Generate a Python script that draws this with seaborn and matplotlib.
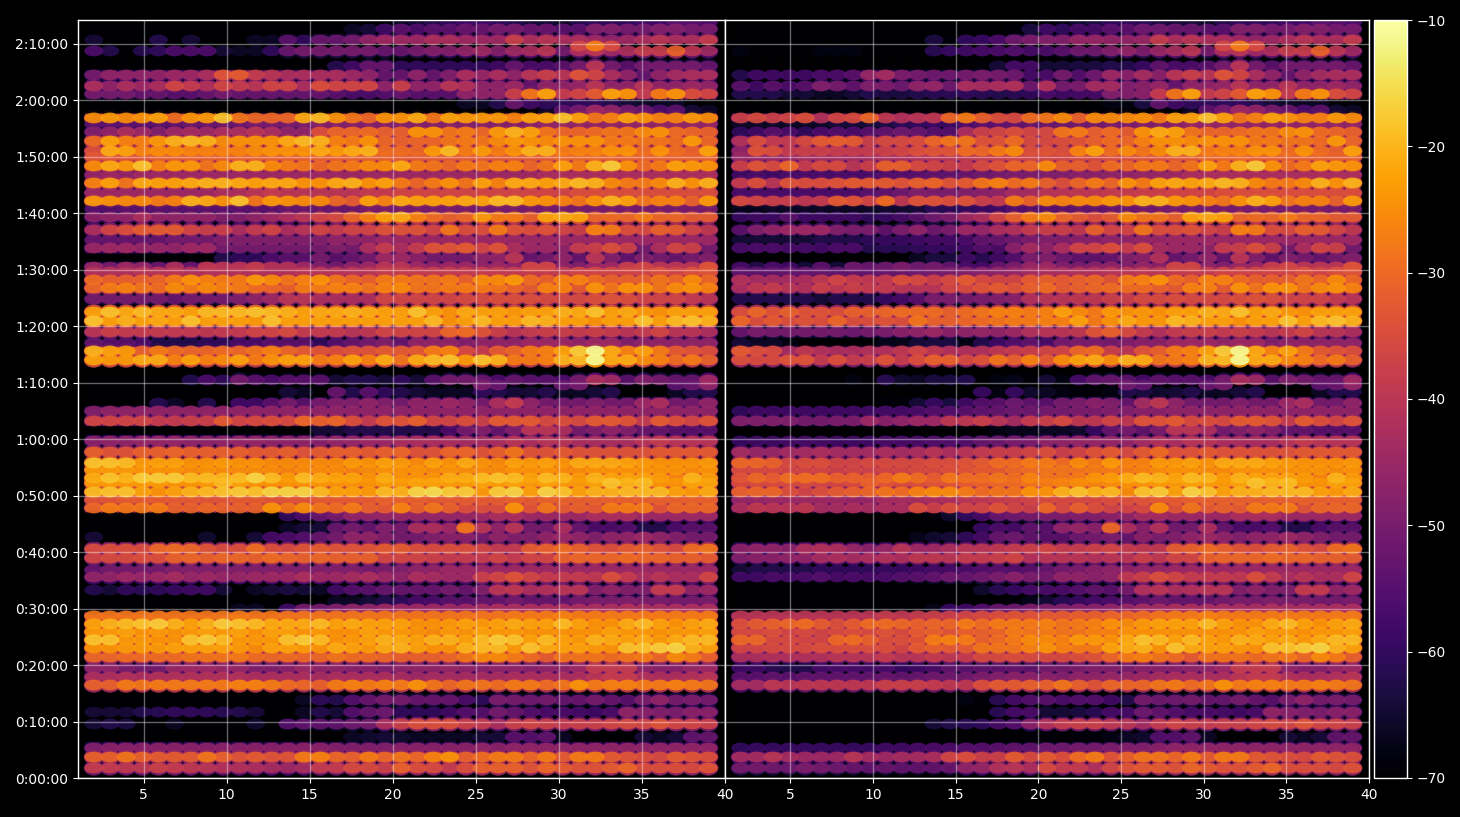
import numpy as np
import pandas as pd
import seaborn as sns
import matplotlib
matplotlib.use("Agg")
import matplotlib.pyplot as plt
from matplotlib.cm import ScalarMappable
from matplotlib.colors import Normalize
from matplotlib.markers import MarkerStyle
from matplotlib.ticker import FuncFormatter
from matplotlib.transforms import Affine2D

# Track positions (seconds), paired with the attenuation rows below
row_times = [106, 223, 319, 436, 574, 701, 829, 988, 1073, 1169, 1286, 1382, 1467, 1552, 1637, 1722,
             1796, 1881, 1998, 2136, 2210, 2338, 2434, 2561, 2657, 2784, 2869, 2954, 3039, 3135, 3188,
             3273, 3348, 3464, 3581, 3698, 3794, 3900, 3985, 4102, 4176, 4230, 4442, 4538, 4623, 4740, 4857,
             4952, 5090, 5207, 5292, 5377, 5430, 5526, 5632, 5717, 5824, 5962, 6047, 6132, 6217, 6323,
             6408, 6504, 6599, 6663, 6769, 6865, 6950, 7014, 7099, 7163, 7269, 7354, 7471, 7567, 7726,
             7779, 7843, 7960, 8034]

# Level below full scale (dB) per frequency bin, 39 bins on each row
row_levels = [
    [38,38,39,39,37, 38,39,40,41,41, 42,43,44,43,38, 38,35,35,37,31, 34,35,38,34,31, 31,31,33,30,32, 33,33,32,30,34, 34,34,35,33],
    [31,31,28,31,32, 32,32,28,31,33, 32,33,33,27,26, 30,31,27,30,28, 30,26,24,31,29, 27,27,30,27,32, 27,27,32,33,34, 35,32,33,34],
    [48,47,47,47,47, 47,47,47,47,47, 47,47,47,47,47, 48,48,48,48,47, 47,47,47,47,46, 47,46,46,46,46, 46,46,46,46,46, 46,46,46,46],
    [70,70,70,70,70, 70,70,70,70,70, 70,70,70,70,70, 70,66,65,64,65, 66,66,66,66,64, 64,54,55,53,66, 70,70,70,70,64, 66,64,53,52],
    [64,62,63,70,70, 66,70,70,70,70, 65,70,55,53,53, 53,51,50,42,37, 34,34,34,37,38, 42,37,36,37,38, 37,37,36,35,36, 33,36,36,37],
    [64,64,64,62,61, 60,60,60,61,62, 64,70,70,66,62, 64,55,52,51,60, 60,60,58,55,55, 50,52,55,56,56, 57,58,56,46,47, 48,49,47,47],
    [70,70,70,70,70, 70,70,70,70,70, 70,70,70,66,60, 62,55,52,50,50, 52,52,52,56,60, 49,50,51,50,52, 52,50,52,54,49, 46,50,49,50],
    [31,31,27,28,27, 27,27,27,27,26, 26,27,29,30,31, 27,26,27,26,27, 24,28,30,28,28, 29,27,27,29,28, 24,27,26,26,27, 27,26,27,28],
    [42,42,41,42,41, 41,41,41,41,41, 42,42,42,42,43, 42,42,42,42,43, 44,43,43,43,43, 43,42,42,42,42, 42,40,38,38,41, 42,42,41,40],
    [46,46,49,50,50, 45,44,44,45,45, 48,48,47,44,46, 46,47,47,48,46, 46,46,45,46,47, 46,46,47,46,46, 44,38,38,38,46, 47,47,45,44],
    [30,30,29,29,29, 29,28,28,28,27, 29,30,29,30,30, 28,29,29,30,31, 31,31,30,28,25, 25,27,29,32,28, 28,28,29,28,27, 30,25,27,31],
    [24,24,23,23,23, 22,22,22,22,23, 25,22,22,23,24, 21,22,23,21,20, 22,24,24,20,19, 19,23,18,21,22, 22,23,24,18,18, 17,16,20,22],
    [18,18,23,23,24, 24,18,17,19,23, 23,23,18,17,19, 24,23,22,20,21, 22,20,20,22,19, 17,18,22,19,22, 23,20,21,22,21, 23,21,19,19],
    [23,23,22,24,23, 24,23,22,23,22, 24,22,22,24,23, 24,24,22,23,23, 24,25,23,24,22, 23,23,24,24,24, 24,24,22,23,23, 24,23,23,22],
    [22,20,19,18,17, 20,22,20,17,18, 19,21,21,21,19, 22,21,22,22,22, 24,24,23,22,23, 22,21,22,22,19, 22,24,24,21,19, 22,24,22,21],
    [28,28,28,28,28, 28,28,28,28,27, 28,28,28,28,28, 28,28,28,28,28, 28,28,28,28,28, 28,27,27,27,26, 27,27,27,27,27, 27,27,27,27],
    [70,70,70,70,70, 70,70,70,70,66, 66,70,58,50,50, 48,46,46,44,44, 44,44,44,44,43, 42,42,42,42,42, 42,42,42,41,42, 42,42,42,42],
    [70,70,70,70,70, 70,70,70,70,70, 70,70,70,70,70, 66,66,64,62,60, 57,56,54,54,52, 52,50,52,52,52, 50,49,49,48,49, 49,50,50,49],
    [62,64,60,61,60, 59,58,58,64,70, 66,64,63,64,66, 58,55,54,52,52, 52,52,50,52,48, 40,39,42,41,40, 40,48,46,48,48, 38,38,46,44],
    [46,46,44,45,44, 43,45,44,45,45, 44,44,44,42,44, 44,43,42,44,46, 42,43,44,44,37, 36,33,36,38,38, 38,39,34,38,42, 40,42,42,36],
    [52,50,50,50,50, 48,48,48,48,48, 48,48,48,48,48, 48,48,50,49,48, 46,46,44,44,44, 44,44,44,44,44, 44,44,44,44,44, 44,44,44,44],
    [36,35,35,34,34, 31,30,31,30,30, 31,29,30,31,30, 31,31,31,36,36, 36,37,38,38,38, 36,38,36,36,31, 30,30,30,29,30, 30,31,31,32],
    [35,34,34,35,30, 29,30,33,35,34, 29,34,35,33,32, 33,33,33,32,32, 34,35,34,34,36, 38,38,32,31,29, 31,33,34,32,31, 33,35,29,28],
    [64,70,70,70,70, 70,70,65,70,70, 64,57,56,55,52, 50,46,46,48,50, 50,48,47,47,50, 46,48,48,46,44, 46,48,46,46,44, 46,48,50,50],
    [70,70,70,70,70, 70,70,70,70,70, 70,70,66,64,64, 52,50,52,48,50, 42,42,44,28,40, 46,40,50,50,42, 52,56,56,55,62, 62,56,54,54],
    [70,70,70,70,70, 70,70,70,70,70, 70,70,60,56,52, 50,46,46,45,45, 45,45,45,45,44, 42,42,44,44,44, 44,42,42,42,44, 44,44,44,44],
    [30,27,28,28,27, 31,31,30,31,31, 31,24,28,25,28, 29,27,31,32,26, 31,28,31,34,34, 34,24,33,28,32, 31,32,27,27,27, 33,30,30,30],
    [33,33,32,32,32, 32,32,33,33,32, 32,33,33,33,32, 32,32,32,31,31, 31,32,32,32,32, 32,31,32,31,31, 31,31,31,31,31, 31,31,31,31],
    [19,18,18,22,24, 22,20,19,18,17, 18,16,16,16,19, 22,22,23,19,20, 16,15,17,17,23, 17,16,22,16,18, 22,20,20,19,19, 19,22,23,21],
    [23,23,23,23,23, 24,24,23,19,22, 24,24,24,24,24, 24,24,24,23,23, 22,22,23,23,22, 23,22,23,22,23, 23,22,18,20,19, 24,24,22,22],
    [21,18,20,17,17, 17,19,19,20,19, 16,19,23,19,21, 22,22,24,21,24, 24,24,21,21,19, 18,19,22,19,20, 23,20,22,22,22, 23,26,20,23],
    [23,23,23,24,24, 24,25,24,25,25, 25,25,26,25,25, 25,26,25,24,24, 24,25,24,25,25, 25,24,24,24,25, 25,24,24,24,24, 24,24,25,24],
    [18,18,19,23,22, 22,24,24,23,24, 24,25,25,25,25, 25,23,24,22,23, 25,22,24,21,24, 25,22,23,22,24, 21,21,21,22,23, 24,24,24,23],
    [31,33,33,31,31, 30,31,31,31,31, 32,32,31,33,32, 31,31,32,31,30, 33,33,30,30,33, 31,28,33,33,32, 33,33,33,33,33, 32,32,32,32],
    [47,46,46,45,45, 45,46,46,46,45, 45,46,46,46,47, 45,45,44,44,42, 42,42,42,43,43, 42,40,42,40,40, 42,42,42,42,40, 38,40,40,40],
    [70,70,70,70,70, 70,70,70,70,70, 70,70,70,70,64, 64,62,62,62,62, 62,62,56,50,48, 52,48,40,40,42, 50,48,46,48,52, 52,54,54,54],
    [36,36,36,36,38, 38,37,37,32,36, 35,34,35,30,31, 30,34,38,33,33, 31,36,36,34,37, 32,32,32,35,34, 35,32,32,33,38, 32,34,36,33],
    [48,46,46,46,46, 46,46,46,46,46, 46,46,46,46,46, 46,46,46,46,46, 46,46,46,46,46, 46,46,46,46,46, 46,46,46,46,46, 46,46,46,46],
    [70,70,70,70,62, 66,70,62,70,58, 58,54,50,54,50, 48,48,46,48,50, 46,46,44,46,50, 42,38,46,50,50, 50,48,50,50,44, 42,50,50,46],
    [70,70,70,70,70, 70,70,70,70,70, 70,70,64,66,70, 52,62,54,60,62, 64,66,66,66,60, 62,64,64,62,66, 66,64,62,70,70, 70,66,62,62],
    [70,70,70,70,70, 70,70,70,70,70, 70,70,70,70,70, 70,70,70,70,70, 70,70,70,70,49, 52,70,70,70,52, 50,70,70,70,70, 70,54,52,46],
    [70,70,70,70,70, 70,62,56,60,50, 54,56,54,54,54, 64,62,62,64,60, 64,54,50,50,52, 56,52,54,54,56, 50,42,44,54,48, 50,52,52,44],
    [22,23,23,21,21, 26,22,26,25,22, 27,24,22,22,27, 26,22,26,21,28, 21,19,18,23,18, 20,27,27,26,20, 19,11,21,21,25, 26,29,27,31],
    [20,22,23,31,27, 29,30,30,29,30, 28,26,30,32,33, 34,33,33,32,32, 32,27,26,35,38, 32,30,27,26,22, 17,11,21,26,22, 27,32,33,34],
    [52,54,54,56,62, 62,62,60,60,56, 56,54,54,54,60, 55,52,50,48,52, 46,46,46,48,46, 46,46,44,44,44, 46,44,44,48,46, 46,46,46,46],
    [40,37,38,38,38, 38,38,39,38,38, 36,36,35,38,38, 38,40,39,36,36, 36,36,30,29,33, 37,40,38,37,37, 38,37,38,40,38, 36,40,40,42],
    [18,22,20,22,21, 22,18,22,22,22, 23,18,22,22,22, 22,22,22,22,22, 22,19,24,22,19, 22,22,19,20,22, 22,24,22,22,18, 22,19,18,20],
    [22,18,21,19,21, 21,22,19,19,19, 18,19,20,22,21, 21,20,21,22,22, 18,22,24,21,22, 22,23,22,22,20, 21,18,22,21,23, 24,22,22,22],
    [50,50,50,50,50, 52,50,50,50,48, 46,44,40,40,42, 42,42,42,36,36, 36,36,36,35,35, 34,34,34,35,35, 35,34,33,34,36, 36,36,38,40],
    [30,27,26,28,29, 25,27,25,26,27, 29,30,31,27,27, 26,26,28,26,25, 28,28,27,27,27, 28,30,32,26,26, 32,24,28,24,24, 28,25,24,26],
    [29,31,31,31,30, 27,24,26,27,27, 23,25,28,26,24, 28,30,31,27,27, 28,28,27,31,25, 25,23,29,31,26, 26,29,31,31,31, 28,30,25,30],
    [41,41,41,40,40, 40,41,41,41,41, 41,41,41,40,40, 40,40,40,38,38, 38,38,38,38,38, 38,38,38,38,38, 36,36,36,36,36, 34,36,34,33],
    [45,50,44,46,52, 42,52,39,40,40, 38,41,41,44,48, 50,46,44,40,40, 44,46,44,44,46, 44,46,36,36,46, 48,44,44,38,36, 40,40,40,33],
    [70,70,70,70,70, 70,70,70,62,60, 60,56,54,54,50, 54,52,50,44,44, 47,50,50,50,46, 46,40,52,50,46, 52,40,48,53,48, 50,52,50,48],
    [45,44,44,45,45, 46,44,44,50,50, 50,50,50,50,50, 48,50,42,38,42, 38,33,33,32,36, 33,42,44,44,46, 38,37,34,37,50, 42,36,37,50],
    [52,52,52,52,52, 50,50,50,48,48, 48,48,48,48,48, 46,46,46,44,44, 44,44,44,44,44, 44,44,44,44,44, 44,44,44,44,44, 44,44,44,44],
    [42,36,34,32,32, 32,36,37,37,42, 38,36,42,40,36, 38,36,36,33,33, 33,36,28,34,34, 27,33,34,33,36, 37,26,27,34,35, 31,32,36,39],
    [47,46,46,42,46, 46,46,46,48,48, 46,44,42,40,36, 35,30,26,22,21, 26,29,31,30,23, 27,27,31,22,21, 22,30,29,30,27, 30,30,32,32],
    [55,55,54,54,54, 54,54,54,54,54, 54,54,52,52,52, 52,52,50,50,50, 50,50,50,50,50, 50,50,50,50,50, 50,50,50,50,50, 50,50,50,50],
    [23,24,25,25,27, 26,20,21,24,18, 28,23,24,25,25, 30,32,22,26,21, 22,22,22,21,22, 19,19,23,24,26, 28,24,20,22,28, 26,26,31,23],
    [44,44,44,44,44, 44,44,44,42,42, 40,38,40,40,40, 40,40,38,38,36, 36,36,36,36,36, 36,36,36,36,36, 34,34,34,34,34, 34,34,34,34],
    [26,22,28,21,22, 22,21,20,20,21, 22,21,21,24,24, 21,20,24,22,27, 30,27,24,28,22, 26,21,21,22,21, 19,20,25,27,27, 25,20,24,20],
    [46,44,46,44,44, 44,44,44,44,44, 44,44,44,44,44, 44,44,44,44,44, 44,44,44,44,44, 44,44,44,42,42, 42,42,42,42,42, 42,42,42,42],
    [25,21,23,18,26, 23,23,28,25,20, 20,25,27,28,30, 28,27,25,25,21, 27,28,30,27,28, 26,26,30,28,22, 27,20,17,24,29, 27,22,23,24],
    [33,33,33,33,31, 31,31,31,31,31, 31,31,31,31,31, 31,31,31,31,32, 32,32,32,32,32, 32,32,32,32,30, 30,30,31,31,31, 31,31,31,31],
    [34,21,22,26,25, 25,26,26,26,26, 25,24,24,24,21, 23,21,20,29,29, 30,23,19,27,23, 27,24,20,20,27, 26,26,24,24,29, 24,29,31,22],
    [29,22,26,26,23, 20,19,20,25,24, 24,24,21,19,20, 26,27,24,30,31, 30,30,28,27,28, 25,23,24,25,24, 24,24,27,27,28, 28,29,23,30],
    [48,46,42,44,48, 44,43,44,42,42, 40,42,46,46,34, 30,30,29,31,31, 24,24,28,27,30, 23,20,22,28,30, 30,29,28,28,25, 24,29,30,31],
    [54,54,54,54,54, 54,52,52,52,52, 50,50,50,50,48, 48,48,48,48,48, 48,48,48,48,48, 48,48,48,46,46, 46,46,46,46,46, 46,46,46,46],
    [25,23,25,24,22, 29,24,23,18,28, 30,30,30,21,19, 24,28,30,24,24, 21,28,22,23,23, 23,26,22,22,18, 22,28,26,22,24, 26,26,23,25],
    [70,70,70,70,70, 70,70,70,70,70, 70,70,70,70,70, 70,70,70,70,70, 70,70,70,70,70, 70,70,70,66,54, 50,44,46,50,52, 56,54,64,66],
    [70,70,70,70,70, 70,70,70,70,70, 70,70,70,70,70, 70,70,70,70,70, 70,70,70,66,66, 62,52,58,60,60, 60,60,62,64,66, 66,66,70,70],
    [50,50,50,52,52, 54,54,52,50,52, 52,52,52,52,52, 54,56,56,55,52, 54,54,54,46,46, 46,37,28,22,38, 36,32,22,24,38, 27,24,34,36],
    [42,46,42,44,42, 36,38,41,36,38, 40,36,36,42,34, 36,36,36,46,37, 46,46,40,41,46, 46,44,52,46,46, 45,40,46,46,40, 46,46,44,46],
    [50,46,46,46,46, 44,44,42,33,32, 38,40,42,42,42, 42,44,46,52,52, 46,52,48,42,45, 42,46,40,37,40, 33,36,42,46,52, 46,43,42,42],
    [70,70,70,70,70, 70,70,70,70,70, 70,70,70,70,70, 62,58,52,52,60, 60,60,60,60,60, 58,52,56,56,54, 50,40,50,54,50, 50,50,50,52],
    [56,62,70,62,60, 56,56,56,64,66, 66,60,52,50,50, 50,50,50,52,52, 50,48,48,46,44, 48,44,43,40,50, 42,40,44,42,38, 38,31,40,44],
    [70,70,70,70,70, 70,70,70,70,70, 70,70,70,70,70, 70,70,70,70,70, 70,70,70,70,70, 70,70,70,70,70, 36,27,35,70,70, 70,70,70,70],
    [64,70,70,70,62, 70,64,70,70,70, 66,66,54,60,52, 52,50,46,44,44, 44,42,42,44,44, 44,37,42,40,42, 42,44,46,44,42, 40,42,42,38],
    [70,70,70,70,70, 70,70,70,70,70, 70,70,70,70,70, 70,66,64,58,54, 56,54,54,52,52, 50,50,52,52,54, 54,48,48,50,50, 48,48,50,50],
    [70,70,70,70,70, 70,70,70,70,70, 70,70,70,70,70, 70,70,70,70,66, 64,62,60,58,58, 60,62,64,64,66, 62,60,60,60,58, 58,54,55,56],
]

# Extra reduction applied per bin in the processed channel (right panel)
bin_reduction = [12,12,12,12,12, 12,12,12,12,11, 11,10,9,9,8, 7,6,5,5,4, 4,3,3,2,2, 1,1,0,0,0, 0,0,0,0,0, 0,0,0,0]

tick_positions = [5, 10, 15, 20, 25, 30, 35, 40]
colorbar_ticks = [-10, -20, -30, -40, -50, -60, -70]

sns.set_theme(style="dark", rc={
    "figure.facecolor": "black", "axes.facecolor": "black", "savefig.facecolor": "black",
    "axes.edgecolor": "white", "axes.labelcolor": "white", "text.color": "white",
    "xtick.color": "white", "ytick.color": "white", "xtick.bottom": True, "ytick.left": True,
    "grid.color": "white", "axes.grid": False, "font.family": "DejaVu Sans",
    "font.size": 10, "xtick.labelsize": 10, "ytick.labelsize": 10,
})

bins = np.linspace(2, 39, len(bin_reduction))
levels = -np.array(row_levels, dtype=float)
reduction = np.array(bin_reduction, dtype=float)


def build_frame(values):
    frame = pd.DataFrame(values, index=row_times, columns=bins)
    long = frame.rename_axis(index="time", columns="bin").stack().rename("db").reset_index()
    # quiet bins sit underneath the louder ones
    return long.sort_values("db", kind="stable")


def clock(seconds, _pos=None):
    seconds = int(round(seconds))
    return f"{seconds // 3600}:{seconds % 3600 // 60:02d}:{seconds % 60:02d}"


W, H = 1460, 817
fig = plt.figure(figsize=(W / 100, H / 100), dpi=100)
rect = lambda x0, x1: [x0 / W, 1 - 778 / H, (x1 - x0) / W, (778 - 20) / H]
ax_left = fig.add_axes(rect(78, 725))
ax_right = fig.add_axes(rect(725, 1369))
ax_cbar = fig.add_axes(rect(1374, 1407))

norm = Normalize(-70, -10)
dot = MarkerStyle("o", transform=Affine2D().scale(1.75, 1.0))
# a taller, dimmer ellipse under each bin gives energy its spread along the track
halo = MarkerStyle("o", transform=Affine2D().scale(1.85, 1.42))
HALO_DROP = 13

for ax, values in ((ax_left, levels), (ax_right, levels - reduction)):
    layers = ((values - HALO_DROP, halo, 1), (values, dot, 2))
    for layer_values, marker, order in layers:
        sns.scatterplot(data=build_frame(layer_values), x="bin", y="time", hue="db", palette="inferno",
                        hue_norm=norm, marker=marker, s=60, linewidth=0, edgecolor="none",
                        alpha=0.92, legend=False, ax=ax, zorder=order)
    ax.set_xlim(1.05, 40)
    ax.set_ylim(0, 8055)
    ax.set_xlabel("")
    ax.set_ylabel("")
    ax.set_xticks(tick_positions)
    ax.set_yticks(np.arange(0, 7801, 600))
    ax.set_axisbelow(False)
    ax.grid(True, color="white", alpha=0.4, linewidth=1.0, zorder=3)
    for spine in ax.spines.values():
        spine.set_color("white")
        spine.set_linewidth(1.0)
        spine.set_zorder(5)
    ax.tick_params(length=3.5, width=0.8, colors="white")

ax_left.yaxis.set_major_formatter(FuncFormatter(clock))
ax_right.tick_params(axis="y", left=False, labelleft=False)

bar = fig.colorbar(ScalarMappable(norm=norm, cmap="inferno"), cax=ax_cbar, ticks=colorbar_ticks)
bar.outline.set_edgecolor("white")
bar.outline.set_linewidth(1.0)
bar.ax.tick_params(colors="white", length=3.5, width=0.8)

fig.savefig("out.png", dpi=100, facecolor="black")
